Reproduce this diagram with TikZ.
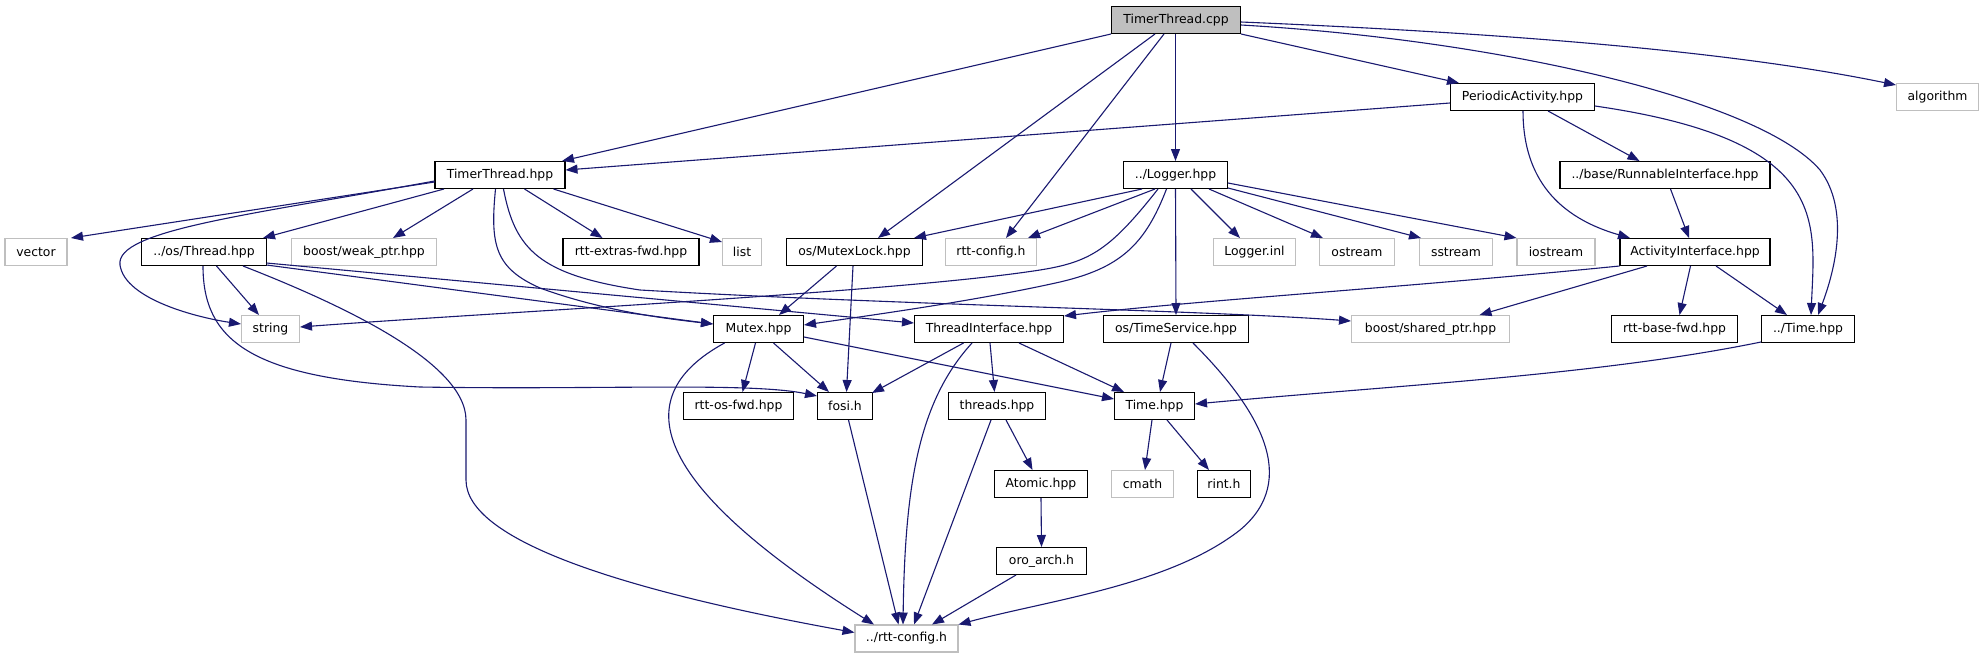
\documentclass[tikz,border=0pt]{standalone}
\usepackage{fontspec}
\newfontfamily\dejavu{DejaVu Sans}
\usetikzlibrary{arrows.meta}
\definecolor{edgeblue}{HTML}{191970}
\definecolor{extgray}{HTML}{BFBFBF}
\definecolor{rootgray}{HTML}{BFBFBF}
\begin{document}
\begin{tikzpicture}[x=1pt,y=-1pt,
 box/.style={rectangle, draw=black, line width=1.2pt, minimum height=27pt, inner xsep=2pt, inner ysep=0pt, font=\dejavu\fontsize{12.4}{14}\selectfont},
 ext/.style={box, draw=extgray},
 root/.style={box, fill=rootgray},
 edge/.style={draw=edgeblue, line width=1.1pt, -{Triangle[length=12pt,width=9pt]}},
]
\fill[white] (0,0) rectangle (1984,659);
\useasboundingbox (0,0) rectangle (1984,659);

% nodes
\node[root, minimum width=129pt] (cpp) at (1176,20) {TimerThread.cpp};
\node[box, minimum width=130pt] (tth) at (500,175) {TimerThread.hpp};
\node[box, minimum width=104pt] (log) at (1175.5,175) {../Logger.hpp};
\node[box, minimum width=144pt] (pa) at (1522.5,97) {PeriodicActivity.hpp};
\node[ext, minimum width=82pt] (alg) at (1937.5,97) {algorithm};
\node[box, minimum width=210pt] (ri) at (1665,175) {../base/RunnableInterface.hpp};
\node[ext, minimum width=62pt] (vec) at (36,252) {vector};
\node[box, minimum width=125pt] (thr) at (204,252) {../os/Thread.hpp};
\node[ext, minimum width=145pt] (wp) at (364,252) {boost/weak\_ptr.hpp};
\node[box, minimum width=136pt] (ref) at (631,252) {rtt-extras-fwd.hpp};
\node[ext, minimum width=39pt] (lst) at (742,252) {list};
\node[box, minimum width=136pt] (ml) at (854.5,252) {os/MutexLock.hpp};
\node[ext, minimum width=91pt] (rcfg) at (991,252) {rtt-config.h};
\node[ext, minimum width=82pt] (linl) at (1254.5,252) {Logger.inl};
\node[ext, minimum width=75pt] (ost) at (1357,252) {ostream};
\node[ext, minimum width=73pt] (sst) at (1456,252) {sstream};
\node[ext, minimum width=78pt] (ist) at (1556,252) {iostream};
\node[box, minimum width=150pt] (ai) at (1695,252) {ActivityInterface.hpp};
\node[ext, minimum width=58pt] (str) at (270.5,329) {string};
\node[box, minimum width=90pt] (mtx) at (758.5,329) {Mutex.hpp};
\node[box, minimum width=149pt] (ti) at (989,329) {ThreadInterface.hpp};
\node[box, minimum width=145pt] (ts) at (1176,329) {os/TimeService.hpp};
\node[ext, minimum width=158pt] (sp) at (1430.5,329) {boost/shared\_ptr.hpp};
\node[box, minimum width=126pt] (rbf) at (1674.5,329) {rtt-base-fwd.hpp};
\node[box, minimum width=93pt] (ptime) at (1808,329) {../Time.hpp};
\node[box, minimum width=110pt] (osf) at (738.5,406) {rtt-os-fwd.hpp};
\node[box, minimum width=55pt] (fosi) at (845,406) {fosi.h};
\node[box, minimum width=97pt] (thds) at (997,406) {threads.hpp};
\node[box, minimum width=80pt] (time) at (1154.5,406) {Time.hpp};
\node[ext, minimum width=62pt] (cm) at (1142.5,484) {cmath};
\node[box, minimum width=53pt] (rint) at (1224,484) {rint.h};
\node[box, minimum width=93pt] (atom) at (1041,484) {Atomic.hpp};
\node[box, minimum width=90pt] (oro) at (1041.5,561) {oro\_arch.h};
\node[ext, minimum width=103pt] (prc) at (906.5,638.5) {../rtt-config.h};

% edges from TimerThread.cpp
\draw[edge] ([shift={(-65,14)}]cpp.center) -- ([shift={(62,-14)}]tth.center);
\draw[edge] ([shift={(-21,14)}]cpp.center) -- ([shift={(23.5,-14)}]ml.center);
\draw[edge] ([shift={(-12,14)}]cpp.center) -- ([shift={(15,-14)}]rcfg.center);
\draw[edge] ([shift={(-0.5,14)}]cpp.center) -- ([shift={(0,-14)}]log.center);
\draw[edge] ([shift={(65,14)}]cpp.center) -- ([shift={(-63.5,-14)}]pa.center);
\draw[edge] ([shift={(65,5)}]cpp.center) .. controls (1500,40) and (1760,100) .. (1820,170)
  .. controls (1850,210) and (1835,270) .. ([shift={(10,-14)}]ptime.center);
\draw[edge] ([shift={(65,2)}]cpp.center) .. controls (1550,35) and (1750,55) .. ([shift={(-41.5,-12)}]alg.center);

% PeriodicActivity.hpp
\draw[edge] ([shift={(-72.5,6)}]pa.center) -- ([shift={(65.5,-5)}]tth.center);
\draw[edge] ([shift={(25.5,14)}]pa.center) -- ([shift={(-25.5,-14)}]ri.center);
\draw[edge] ([shift={(0.5,14)}]pa.center) .. controls (1523,170) and (1550,215) .. ([shift={(-65,-14)}]ai.center);
\draw[edge] ([shift={(72.5,9)}]pa.center) .. controls (1830,140) and (1815,220) .. ([shift={(3,-14)}]ptime.center);

% RunnableInterface
\draw[edge] ([shift={(5.5,14)}]ri.center) -- ([shift={(-6,-14)}]ai.center);

% ActivityInterface
\draw[edge] ([shift={(-75.5,14)}]ai.center) .. controls (1400,288) and (1200,300) .. ([shift={(75,-13)}]ti.center);
\draw[edge] ([shift={(-48,14)}]ai.center) -- ([shift={(49,-14)}]sp.center);
\draw[edge] ([shift={(-4.5,14)}]ai.center) -- ([shift={(5,-14)}]rbf.center);
\draw[edge] ([shift={(21,14)}]ai.center) -- ([shift={(-21,-14)}]ptime.center);

% ../Time.hpp
\draw[edge] ([shift={(-47,13)}]ptime.center) .. controls (1600,375) and (1400,385) .. ([shift={(40.5,-2)}]time.center);

% TimerThread.hpp
\draw[edge] ([shift={(-65.5,7)}]tth.center) -- ([shift={(35,-14)}]vec.center);
\draw[edge] ([shift={(-65.5,6)}]tth.center) .. controls (250,215) and (115,230) .. (120,265)
  .. controls (125,300) and (200,318) .. ([shift={(-29.5,-5)}]str.center);
\draw[edge] ([shift={(-56,14)}]tth.center) -- ([shift={(59,-14)}]thr.center);
\draw[edge] ([shift={(-27,14)}]tth.center) -- ([shift={(29,-14)}]wp.center);
\draw[edge] ([shift={(24.5,14)}]tth.center) -- ([shift={(-28.5,-14)}]ref.center);
\draw[edge] ([shift={(53.5,14)}]tth.center) -- ([shift={(-20,-10)}]lst.center);
\draw[edge] ([shift={(-4.5,14)}]tth.center) .. controls (490,245) and (495,268) .. (540,288)
  .. controls (600,310) and (660,318) .. ([shift={(-45.5,-5)}]mtx.center);
\draw[edge] ([shift={(3.5,14)}]tth.center) .. controls (515,250) and (540,275) .. (640,290)
  .. controls (900,305) and (1200,310) .. ([shift={(-79.5,-8)}]sp.center);

% ../Logger.hpp
\draw[edge] ([shift={(-33.5,14)}]log.center) -- ([shift={(59.5,-14)}]ml.center);
\draw[edge] ([shift={(-20.5,14)}]log.center) -- ([shift={(37,-14)}]rcfg.center);
\draw[edge] ([shift={(-17.5,14)}]log.center) .. controls (1110,250) and (1090,262) .. (1040,270)
  .. controls (900,292) and (500,312) .. ([shift={(29.5,-2)}]str.center);
\draw[edge] ([shift={(-9,14)}]log.center) .. controls (1145,245) and (1120,268) .. (1060,282)
  .. controls (980,300) and (880,314) .. ([shift={(45.5,-4)}]mtx.center);
\draw[edge] ([shift={(15.5,14)}]log.center) -- ([shift={(-14.5,-14)}]linl.center);
\draw[edge] ([shift={(33.5,14)}]log.center) -- ([shift={(-34,-14)}]ost.center);
\draw[edge] ([shift={(52.5,13)}]log.center) -- ([shift={(-35,-14)}]sst.center);
\draw[edge] ([shift={(52.5,8)}]log.center) -- ([shift={(-39.5,-14)}]ist.center);
\draw[edge] ([shift={(0,14)}]log.center) -- ([shift={(0,-14)}]ts.center);

% ../os/Thread.hpp
\draw[edge] ([shift={(12.5,14)}]thr.center) -- ([shift={(-11.5,-14)}]str.center);
\draw[edge] ([shift={(62.5,13)}]thr.center) -- ([shift={(-45.5,-5)}]mtx.center);
\draw[edge] ([shift={(62.5,11)}]thr.center) -- ([shift={(-75,-6)}]ti.center);
\draw[edge] ([shift={(-1,14)}]thr.center) .. controls (203,340) and (250,378) .. (420,387)
  .. controls (600,390) and (750,382) .. ([shift={(-28,-10)}]fosi.center);
\draw[edge] ([shift={(39,14)}]thr.center) .. controls (330,300) and (466,360) .. (466,420)
  -- (466,480) .. controls (466,540) and (620,590) .. ([shift={(-52,-6)}]prc.center);

% os/MutexLock.hpp
\draw[edge] ([shift={(-18,14)}]ml.center) -- ([shift={(20.5,-14)}]mtx.center);
\draw[edge] ([shift={(-1.5,14)}]ml.center) -- ([shift={(1.5,-14)}]fosi.center);

% Mutex.hpp
\draw[edge] ([shift={(-3,14)}]mtx.center) -- ([shift={(4,-14)}]osf.center);
\draw[edge] ([shift={(15,14)}]mtx.center) -- ([shift={(-16,-14)}]fosi.center);
\draw[edge] ([shift={(45.5,8)}]mtx.center) -- ([shift={(-40.5,-7)}]time.center);
\draw[edge] ([shift={(-34,14)}]mtx.center) .. controls (620,400) and (660,490) .. ([shift={(-32.5,-14)}]prc.center);

% ThreadInterface.hpp
\draw[edge] ([shift={(-25.5,14)}]ti.center) -- ([shift={(27,-13)}]fosi.center);
\draw[edge] ([shift={(-17,14)}]ti.center) .. controls (920,400) and (905,480) .. ([shift={(-3.5,-14)}]prc.center);
\draw[edge] ([shift={(1,14)}]ti.center) -- ([shift={(-2.5,-14)}]thds.center);
\draw[edge] ([shift={(30,14)}]ti.center) -- ([shift={(-30.5,-14)}]time.center);

% os/TimeService.hpp
\draw[edge] ([shift={(-5,14)}]ts.center) -- ([shift={(5.5,-14)}]time.center);
\draw[edge] ([shift={(17,14)}]ts.center) .. controls (1260,410) and (1300,480) .. (1240,530)
  .. controls (1170,585) and (1050,600) .. ([shift={(52,-14)}]prc.center);

% threads.hpp, Atomic.hpp, oro_arch.h
\draw[edge] ([shift={(9,14)}]thds.center) -- ([shift={(-8.5,-14)}]atom.center);
\draw[edge] ([shift={(-6,14)}]thds.center) -- ([shift={(7.5,-14)}]prc.center);
\draw[edge] ([shift={(0,14)}]atom.center) -- ([shift={(0,-14)}]oro.center);
\draw[edge] ([shift={(-25.5,14)}]oro.center) -- ([shift={(25.5,-14)}]prc.center);

% Time.hpp
\draw[edge] ([shift={(-2.5,14)}]time.center) -- ([shift={(2.5,-14)}]cm.center);
\draw[edge] ([shift={(12.5,14)}]time.center) -- ([shift={(-15,-14)}]rint.center);

% fosi.h
\draw[edge] ([shift={(3.5,14)}]fosi.center) -- ([shift={(-8,-14)}]prc.center);
\end{tikzpicture}
\end{document}
